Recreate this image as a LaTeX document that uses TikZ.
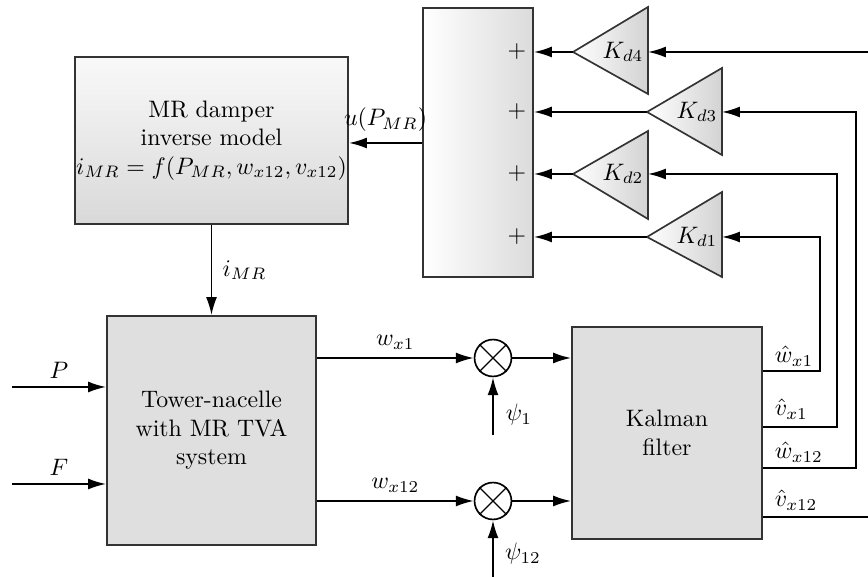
\documentclass[tikz,border=0pt]{standalone}
\usetikzlibrary{arrows.meta,calc}
\begin{document}
\begin{tikzpicture}[x=0.42pt,y=-0.42pt,
  box/.style={draw=black!80,line width=0.8pt,inner sep=0pt,align=center},
  flatbox/.style={box,fill=gray!25},
  arr/.style={-{Latex[length=7.5pt,width=4.6pt]},line width=0.75pt},
  ln/.style={line width=0.75pt},
  tri/.style={draw=black!80,line width=0.7pt,left color=white,right color=gray!35},
  mixer/.style={circle,draw=black,line width=0.7pt,minimum size=15.5pt,inner sep=0pt,fill=white}]
\useasboundingbox (0,0) rectangle (868,577);

% blocks
\node[box,top color=gray!5,bottom color=gray!30,minimum width=114.7pt,minimum height=70.1pt] (mr) at (211.5,140.5)
  {MR damper\\inverse model\\$i_{MR}=f(P_{MR}, w_{x12}, v_{x12})$};
\node[box,left color=white,right color=gray!28,minimum width=46.2pt,minimum height=113pt] (sum) at (478,142.5) {};
\node[flatbox,minimum width=87.8pt,minimum height=96.2pt] (tower) at (211.5,430.5)
  {Tower-nacelle\\with MR TVA\\system};
\node[flatbox,minimum width=79.8pt,minimum height=89pt] (kal) at (667,433)
  {Kalman\\filter};

% plus signs
\node (p4) at (517,52) {$+$};
\node (p3) at (517,112) {$+$};
\node (p2) at (517,174) {$+$};
\node (p1) at (517,237) {$+$};

% gain triangles
\path[tri] (573,52) -- (648,7) -- (648,94) -- cycle;
\path[tri] (647,112) -- (722,68) -- (722,155) -- cycle;
\path[tri] (573,174) -- (648,131) -- (648,219) -- cycle;
\path[tri] (647,237) -- (722,192) -- (722,277) -- cycle;
\coordinate (k4tip) at (573,52);  \coordinate (k4in) at (648,52);
\coordinate (k3tip) at (647,112); \coordinate (k3in) at (722,112);
\coordinate (k2tip) at (573,174); \coordinate (k2in) at (648,174);
\coordinate (k1tip) at (647,237); \coordinate (k1in) at (722,237);
\node (k4) at (623,52) {$K_{d4}$};
\node (k3) at (697,112) {$K_{d3}$};
\node (k2) at (623,174) {$K_{d2}$};
\node (k1) at (697,237) {$K_{d1}$};

% gains to summation
\draw[arr] (k4tip) -- (sum.east |- k4tip);
\draw[arr] (k3tip) -- (sum.east |- k3tip);
\draw[arr] (k2tip) -- (sum.east |- k2tip);
\draw[arr] (k1tip) -- (sum.east |- k1tip);

% summation to MR model
\draw[arr] (sum.west |- 0,143) -- (mr.east |- 0,143) node[midway,above=1pt] {$u(P_{MR})$};
% MR model to tower
\draw[arr] (mr.south) -- (tower.north) node[midway,right=1pt] {$i_{MR}$};

% inputs
\coordinate (pin) at (12,387);
\coordinate (fin) at (12,484);
\draw[arr] (pin) -- (pin -| tower.west) node[midway,above] {$P$};
\draw[arr] (fin) -- (fin -| tower.west) node[midway,above] {$F$};

% mixers
\node[mixer] (c1) at (493,358) {};
\node[mixer] (c2) at (493,501) {};
\draw[line width=0.5pt] (c1.north east) -- (c1.south west) (c1.north west) -- (c1.south east);
\draw[line width=0.5pt] (c2.north east) -- (c2.south west) (c2.north west) -- (c2.south east);

\draw[arr] (tower.east |- c1) -- (c1) node[midway,above] {$w_{x1}$};
\draw[arr] (tower.east |- c2) -- (c2) node[midway,above] {$w_{x12}$};
\draw[arr] (c1) -- (c1 -| kal.west);
\draw[arr] (c2) -- (c2 -| kal.west);

\coordinate (n1) at (493,435);
\coordinate (n2) at (493,577);
\draw[arr] (n1) -- (c1.south);
\draw[arr] (n2) -- (c2.south);
\node (psi1) at (519,415) {$\psi_1$};
\node (psi2) at (523,554) {$\psi_{12}$};

% Kalman outputs, feedback
\draw[arr] (kal.east |- 0,371) -- (820,371) -- (820,237) -- (k1in);
\draw[arr] (kal.east |- 0,427) -- (837,427) -- (837,174) -- (k2in);
\draw[arr] (kal.east |- 0,468) -- (856,468) -- (856,112) -- (k3in);
\draw[ln] (kal.east |- 0,517) -- (868,517);
\draw[arr] (868,52) -- (k4in);

\node[anchor=west,inner sep=1pt] (l1) at (772,356) {$\hat{w}_{x1}$};
\node[anchor=west,inner sep=1pt] (l2) at (772,409) {$\hat{v}_{x1}$};
\node[anchor=west,inner sep=1pt] (l3) at (772,452) {$\hat{w}_{x12}$};
\node[anchor=west,inner sep=1pt] (l4) at (772,500) {$\hat{v}_{x12}$};
\end{tikzpicture}
\end{document}
